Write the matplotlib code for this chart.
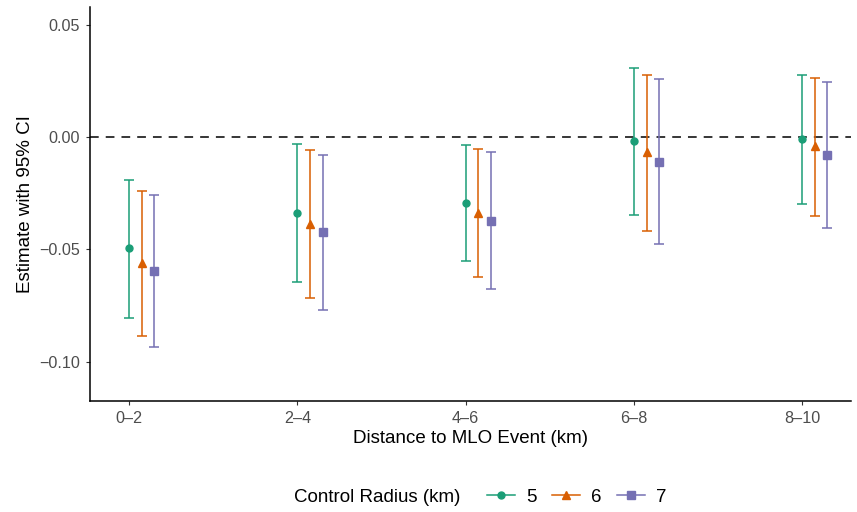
import matplotlib.pyplot as plt
from matplotlib.lines import Line2D
import numpy as np

plt.rcParams['font.family'] = ['Liberation Sans', 'DejaVu Sans']

# Data
categories = ["0\u20132", "2\u20134", "4\u20136", "6\u20138", "8\u201310"]
radii = ["5", "6", "7"]

est = {
    "5": [-0.0496, -0.0339, -0.0294, -0.0019, -0.0007],
    "6": [-0.0563, -0.0385, -0.0337, -0.0065, -0.0040],
    "7": [-0.0597, -0.0422, -0.0374, -0.0111, -0.0079],
}
lower = {
    "5": [-0.0804, -0.0646, -0.0554, -0.0348, -0.0296],
    "6": [-0.0888, -0.0717, -0.0624, -0.0420, -0.0351],
    "7": [-0.0937, -0.0771, -0.0679, -0.0478, -0.0407],
}
upper = {
    "5": [-0.0192, -0.0031, -0.0033, 0.0307, 0.0279],
    "6": [-0.0241, -0.0058, -0.0055, 0.0279, 0.0263],
    "7": [-0.0258, -0.0079, -0.0067, 0.0258, 0.0246],
}

colors = {"5": "#1B9E77", "6": "#D95F02", "7": "#7570B3"}
markers = {"5": ("o", 5.0), "6": ("^", 5.8), "7": ("s", 5.6)}
offsets = {"5": 0.0, "6": 0.075, "7": 0.15}

fig = plt.figure(figsize=(8.57, 5.12), dpi=100)
ax = fig.add_axes([90 / 857, 1 - 401 / 512, 761 / 857, 394 / 512])

x = np.arange(1, len(categories) + 1)
for r in radii:
    e = np.array(est[r])
    lo = np.array(lower[r])
    hi = np.array(upper[r])
    m, ms = markers[r]
    ax.errorbar(
        x + offsets[r], e,
        yerr=[e - lo, hi - e],
        fmt=m, color=colors[r], markersize=ms,
        elinewidth=1.1, capsize=3.3, capthick=1.1,
        zorder=3,
    )

ax.axhline(0, color="black", lw=1.1, linestyle=(0, (5.7, 4.6)), zorder=2)

ax.set_xlim(0.768, 5.29)
ax.set_ylim(-0.1176, 0.058)
ax.set_xticks(x)
ax.set_xticklabels(categories)
ax.set_yticks([0.05, 0.0, -0.05, -0.10])
ax.set_yticklabels(["0.05", "0.00", "\u22120.05", "\u22120.10"])

for s in ["top", "right"]:
    ax.spines[s].set_visible(False)
for s in ["left", "bottom"]:
    ax.spines[s].set_linewidth(1.1)
    ax.spines[s].set_color("black")
ax.tick_params(axis="both", length=3.2, width=0.8, color="#333333",
               labelcolor="#4D4D4D", labelsize=11.6, pad=4)

ax.set_xlabel("Distance to MLO Event (km)", fontsize=13.5, labelpad=3)
ax.set_ylabel("Estimate with 95% CI", fontsize=13.5, labelpad=4)

# legend at bottom
fig.text(460 / 857, 1 - 497 / 512, "Control Radius (km)", fontsize=13.5,
         ha="right", va="center")
handles = [
    Line2D([0], [0], color=colors[r], lw=1.1, marker=markers[r][0],
           markersize=markers[r][1])
    for r in radii
]
fig.legend(handles, radii, ncol=3, loc="center left",
           bbox_to_anchor=(487 / 857, 1 - 497 / 512), frameon=False,
           fontsize=13.5, handlelength=1.5, handletextpad=0.6,
           columnspacing=0.8, borderaxespad=0, borderpad=0)

fig.savefig("out.png", dpi=100)
